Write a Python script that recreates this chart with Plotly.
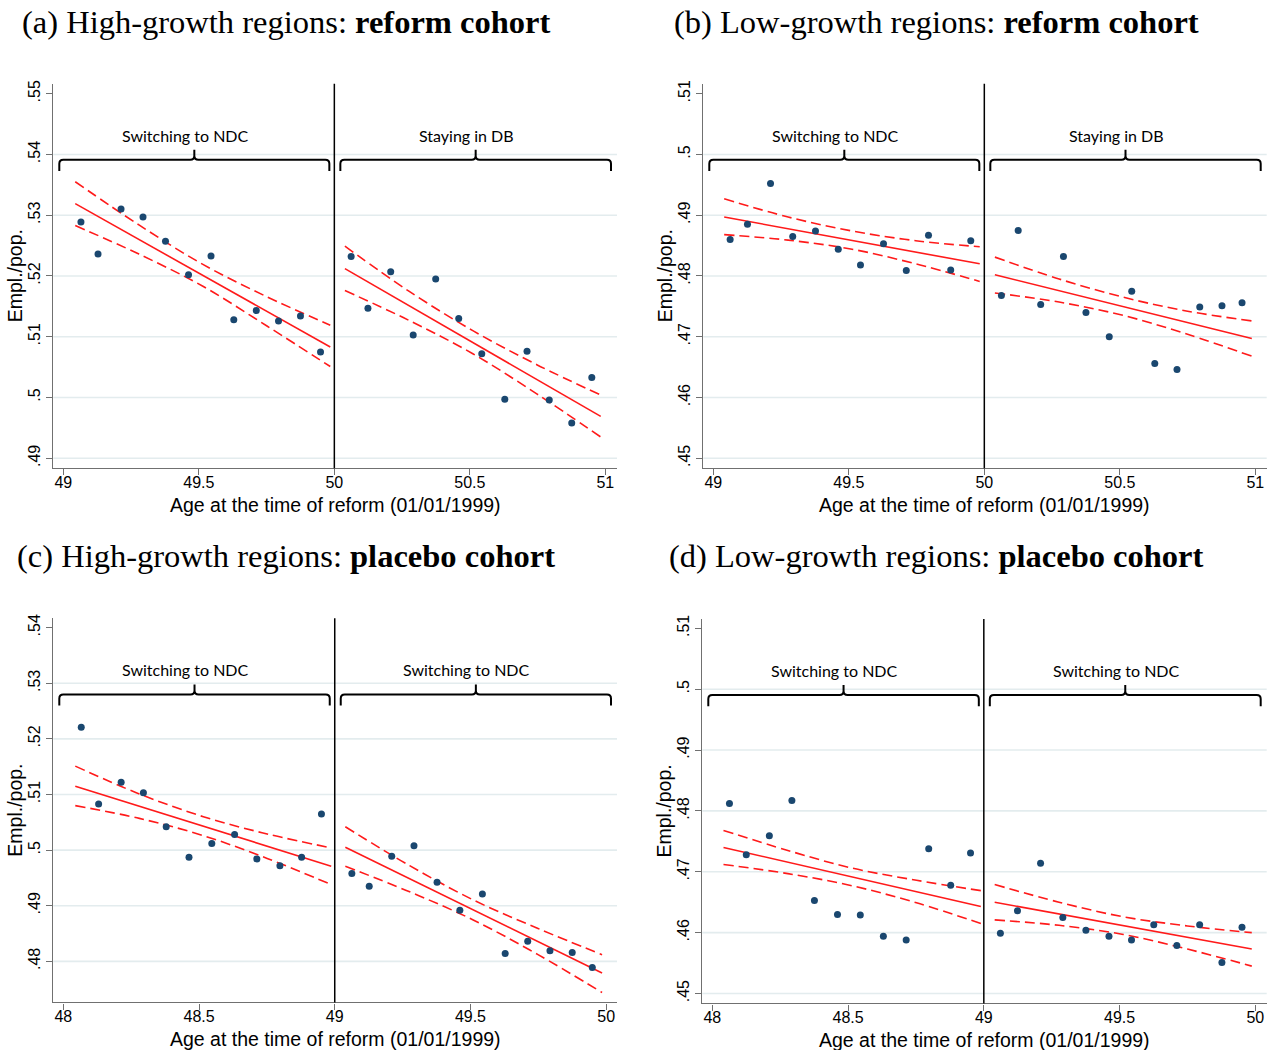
import plotly.graph_objects as go

W, H = 1267, 1050

# ---------------- Panel (a): High-growth regions, reform cohort ----------------
a_age_L = [49.065, 49.128, 49.213, 49.294, 49.377, 49.462, 49.545, 49.629, 49.712, 49.794, 49.875, 49.949]
a_rate_L = [.5289, .5236, .5310, .5297, .5257, .5202, .5233, .5128, .5143, .5126, .5134, .5075]
a_age_R = [50.062, 50.124, 50.208, 50.291, 50.374, 50.459, 50.544, 50.629, 50.711, 50.793, 50.876, 50.950]
a_rate_R = [.5232, .5147, .5207, .5103, .5195, .5130, .5072, .4997, .5076, .4996, .4958, .5033]
a_fit_x_L = [49.044, 49.985]
a_fit_L = [.5319, .5083]
a_band_x_L = [49.044, 49.279, 49.515, 49.750, 49.985]
a_upper_L = [.5355, .5284, .5219, .5166, .5119]
a_lower_L = [.5283, .5236, .5183, .5118, .5051]
a_fit_x_R = [50.039, 50.983]
a_fit_R = [.5212, .4969]
a_band_x_R = [50.039, 50.275, 50.511, 50.747, 50.983]
a_upper_R = [.5249, .5175, .5110, .5054, .5004]
a_lower_R = [.5176, .5127, .5072, .5006, .4935]

# ---------------- Panel (b): Low-growth regions, reform cohort ----------------
b_age_L = [49.062, 49.126, 49.211, 49.293, 49.377, 49.461, 49.543, 49.628, 49.712, 49.794, 49.876, 49.950]
b_rate_L = [.4860, .4885, .4952, .4865, .4874, .4844, .4818, .4853, .4809, .4867, .4810, .4858]
b_age_R = [50.063, 50.125, 50.208, 50.292, 50.375, 50.461, 50.544, 50.629, 50.711, 50.795, 50.877, 50.951]
b_rate_R = [.4768, .4875, .4753, .4832, .4740, .4700, .4775, .4656, .4646, .4749, .4751, .4756]
b_fit_x_L = [49.040, 49.983]
b_fit_L = [.4897, .4820]
b_band_x_L = [49.040, 49.276, 49.512, 49.747, 49.983]
b_upper_L = [.4927, .4897, .4874, .4858, .4848]
b_lower_L = [.4868, .4859, .4844, .4820, .4791]
b_fit_x_R = [50.039, 50.987]
b_fit_R = [.4802, .4697]
b_band_x_R = [50.039, 50.276, 50.513, 50.750, 50.987]
b_upper_R = [.4831, .4795, .4765, .4742, .4726]
b_lower_R = [.4772, .4757, .4735, .4704, .4668]

# ---------------- Panel (c): High-growth regions, placebo cohort ----------------
c_age_L = [48.066, 48.130, 48.213, 48.295, 48.379, 48.463, 48.547, 48.631, 48.713, 48.798, 48.878, 48.951]
c_rate_L = [.5221, .5083, .5122, .5103, .5042, .4987, .5012, .5028, .4984, .4972, .4987, .5065]
c_age_R = [49.063, 49.127, 49.210, 49.292, 49.377, 49.461, 49.544, 49.628, 49.711, 49.793, 49.875, 49.949]
c_rate_R = [.4958, .4935, .4989, .5008, .4942, .4892, .4921, .4814, .4836, .4819, .4816, .4789]
c_fit_x_L = [48.044, 48.987]
c_fit_L = [.5115, .4971]
c_band_x_L = [48.044, 48.280, 48.516, 48.751, 48.987]
c_upper_L = [.5151, .5101, .5060, .5029, .5004]
c_lower_L = [.5080, .5057, .5026, .4985, .4938]
c_fit_x_R = [49.039, 49.985]
c_fit_R = [.5005, .4779]
c_band_x_R = [49.039, 49.276, 49.512, 49.749, 49.985]
c_upper_R = [.5042, .4972, .4910, .4859, .4812]
c_lower_R = [.4971, .4925, .4874, .4812, .4744]

# ---------------- Panel (d): Low-growth regions, placebo cohort ----------------
d_age_L = [48.063, 48.125, 48.210, 48.293, 48.376, 48.461, 48.545, 48.630, 48.714, 48.797, 48.878, 48.951]
d_rate_L = [.4812, .4728, .4759, .4817, .4653, .4630, .4629, .4594, .4588, .4738, .4678, .4731]
d_age_R = [49.061, 49.124, 49.209, 49.291, 49.376, 49.461, 49.544, 49.626, 49.711, 49.795, 49.877, 49.951]
d_rate_R = [.4599, .4636, .4714, .4625, .4604, .4594, .4588, .4613, .4579, .4613, .4551, .4609]
d_fit_x_L = [48.041, 48.989]
d_fit_L = [.4740, .4643]
d_band_x_L = [48.041, 48.278, 48.515, 48.752, 48.989]
d_upper_L = [.4768, .4735, .4706, .4686, .4669]
d_lower_L = [.4712, .4697, .4677, .4649, .4615]
d_fit_x_R = [49.040, 49.987]
d_fit_R = [.4650, .4573]
d_band_x_R = [49.040, 49.277, 49.514, 49.750, 49.987]
d_upper_R = [.4679, .4650, .4626, .4611, .4600]
d_lower_R = [.4621, .4612, .4597, .4573, .4545]

# ---------------- Ticks, labels, cut-offs ----------------
a_yticks = [.49, .50, .51, .52, .53, .54, .55]
a_yticklabels = [".49", ".5", ".51", ".52", ".53", ".54", ".55"]
b_yticks = [.45, .46, .47, .48, .49, .50, .51]
b_yticklabels = [".45", ".46", ".47", ".48", ".49", ".5", ".51"]
c_yticks = [.48, .49, .50, .51, .52, .53, .54]
c_yticklabels = [".48", ".49", ".5", ".51", ".52", ".53", ".54"]
d_yticks = [.45, .46, .47, .48, .49, .50, .51]
d_yticklabels = [".45", ".46", ".47", ".48", ".49", ".5", ".51"]
reform_xticks = [49, 49.5, 50, 50.5, 51]
reform_xticklabels = ["49", "49.5", "50", "50.5", "51"]
placebo_xticks = [48, 48.5, 49, 49.5, 50]
placebo_xticklabels = ["48", "48.5", "49", "49.5", "50"]
cutoffs = [50, 50, 49, 49]
segment_labels = [["Switching to NDC", "Staying in DB"],
                  ["Switching to NDC", "Staying in DB"],
                  ["Switching to NDC", "Switching to NDC"],
                  ["Switching to NDC", "Switching to NDC"]]
titles = ["(a) High-growth regions: <b>reform cohort</b>",
          "(b) Low-growth regions: <b>reform cohort</b>",
          "(c) High-growth regions: <b>placebo cohort</b>",
          "(d) Low-growth regions: <b>placebo cohort</b>"]
y_title = "Empl./pop."
x_title = "Age at the time of reform (01/01/1999)"

# ---------------- Layout geometry (pixels) ----------------
def px(x):
    return x / W

def py(y):
    return 1 - y / H

panel_geo = [  # left, right, top, bottom of plot area (px), x range, y range
    dict(l=53.3, r=617.0, t=80.0, b=466.0, xr=[48.963, 51.043], yr=[.48836, .55164]),
    dict(l=703.3, r=1266.7, t=80.0, b=466.0, xr=[48.963, 51.042], yr=[.44836, .51164]),
    dict(l=53.3, r=617.0, t=616.7, b=1002.3, xr=[47.963, 50.040], yr=[.47260, .54167]),
    dict(l=702.3, r=1266.7, t=617.3, b=1003.3, xr=[47.963, 50.042], yr=[.44836, .51154]),
]

panels = [
    dict(age_L=a_age_L, rate_L=a_rate_L, age_R=a_age_R, rate_R=a_rate_R,
         fx_L=a_fit_x_L, f_L=a_fit_L, bx_L=a_band_x_L, up_L=a_upper_L, lo_L=a_lower_L,
         fx_R=a_fit_x_R, f_R=a_fit_R, bx_R=a_band_x_R, up_R=a_upper_R, lo_R=a_lower_R,
         yt=a_yticks, ytl=a_yticklabels, xt=reform_xticks, xtl=reform_xticklabels),
    dict(age_L=b_age_L, rate_L=b_rate_L, age_R=b_age_R, rate_R=b_rate_R,
         fx_L=b_fit_x_L, f_L=b_fit_L, bx_L=b_band_x_L, up_L=b_upper_L, lo_L=b_lower_L,
         fx_R=b_fit_x_R, f_R=b_fit_R, bx_R=b_band_x_R, up_R=b_upper_R, lo_R=b_lower_R,
         yt=b_yticks, ytl=b_yticklabels, xt=reform_xticks, xtl=reform_xticklabels),
    dict(age_L=c_age_L, rate_L=c_rate_L, age_R=c_age_R, rate_R=c_rate_R,
         fx_L=c_fit_x_L, f_L=c_fit_L, bx_L=c_band_x_L, up_L=c_upper_L, lo_L=c_lower_L,
         fx_R=c_fit_x_R, f_R=c_fit_R, bx_R=c_band_x_R, up_R=c_upper_R, lo_R=c_lower_R,
         yt=c_yticks, ytl=c_yticklabels, xt=placebo_xticks, xtl=placebo_xticklabels),
    dict(age_L=d_age_L, rate_L=d_rate_L, age_R=d_age_R, rate_R=d_rate_R,
         fx_L=d_fit_x_L, f_L=d_fit_L, bx_L=d_band_x_L, up_L=d_upper_L, lo_L=d_lower_L,
         fx_R=d_fit_x_R, f_R=d_fit_R, bx_R=d_band_x_R, up_R=d_upper_R, lo_R=d_lower_R,
         yt=d_yticks, ytl=d_yticklabels, xt=placebo_xticks, xtl=placebo_xticklabels),
]

RED = "#ff1a1a"
NAVY = "#1a476f"
AXIS = "#707070"
GRID = "#e3ecee"
SANS = "Liberation Sans, Arial, sans-serif"
SERIF = "Liberation Serif, Times New Roman, serif"
LABEL_FONT = "Lato, Open Sans, sans-serif"

fig = go.Figure()
shapes = []
annotations = []
layout_axes = {}

for i, (p, g) in enumerate(zip(panels, panel_geo)):
    n = "" if i == 0 else str(i + 1)
    xa, ya = "x" + n, "y" + n
    # traces
    for side in ("L", "R"):
        fig.add_trace(go.Scatter(x=p["bx_" + side], y=p["up_" + side], mode="lines",
                                 line=dict(color=RED, width=1.6, dash="10px,5px", shape="spline", smoothing=1.0),
                                 xaxis=xa, yaxis=ya, showlegend=False, hoverinfo="skip"))
        fig.add_trace(go.Scatter(x=p["bx_" + side], y=p["lo_" + side], mode="lines",
                                 line=dict(color=RED, width=1.6, dash="10px,5px", shape="spline", smoothing=1.0),
                                 xaxis=xa, yaxis=ya, showlegend=False, hoverinfo="skip"))
        fig.add_trace(go.Scatter(x=p["fx_" + side], y=p["f_" + side], mode="lines",
                                 line=dict(color=RED, width=1.6),
                                 xaxis=xa, yaxis=ya, showlegend=False, hoverinfo="skip"))
        fig.add_trace(go.Scatter(x=p["age_" + side], y=p["rate_" + side], mode="markers",
                                 marker=dict(color=NAVY, size=7),
                                 xaxis=xa, yaxis=ya, showlegend=False))

    xkey = "xaxis" + n
    ykey = "yaxis" + n
    layout_axes[xkey] = dict(
        domain=[px(g["l"]), px(g["r"])], anchor=ya, range=g["xr"],
        tickmode="array", tickvals=p["xt"], ticktext=p["xtl"],
        showgrid=False, zeroline=False, showline=True, linecolor=AXIS, linewidth=1.4,
        ticks="outside", ticklen=6, tickwidth=1.3, tickcolor=AXIS, ticklabelstandoff=-7,
        tickfont=dict(family=SANS, size=16, color="black"), fixedrange=True)
    layout_axes[ykey] = dict(
        domain=[py(g["b"]), py(g["t"])], anchor=xa, range=g["yr"],
        tickmode="array", tickvals=p["yt"], ticktext=p["ytl"], tickangle=-90,
        showgrid=False, zeroline=False, showline=True, linecolor=AXIS, linewidth=1.4,
        ticks="outside", ticklen=6, tickwidth=1.3, tickcolor=AXIS,
        tickfont=dict(family=SANS, size=16, color="black"), fixedrange=True)

    # gridlines (all ticks except the top one)
    for v in p["yt"][:-1]:
        shapes.append(dict(type="line", xref=xa + " domain", yref=ya, x0=0, x1=1, y0=v, y1=v,
                           line=dict(color=GRID, width=1.6), layer="below"))
    # cut-off line
    cut = cutoffs[i]
    shapes.append(dict(type="line", xref=xa, yref=ya + " domain", x0=cut, x1=cut, y0=0, y1=1,
                       line=dict(color="black", width=1.5), layer="above"))

    # brackets
    xr = g["xr"]
    unit = (g["r"] - g["l"]) / (xr[1] - xr[0])  # px per x unit
    hgt = g["b"] - g["t"]
    rx, ry = 4 / unit, 4 / hgt
    yh, ye, yn = 0.802, 0.773, 0.828
    spans = [(xr[0] + 6 / unit, cut - 5 / unit), (cut + 6 / unit, xr[1] - 6 / unit)]
    for k, (x0, x1) in enumerate(spans):
        xm = (x0 + x1) / 2
        path = (f"M {x0},{ye} L {x0},{yh - ry} Q {x0},{yh} {x0 + rx},{yh} "
                f"L {xm - rx},{yh} Q {xm},{yh} {xm},{yh + ry} L {xm},{yn} "
                f"M {xm},{yh + ry} Q {xm},{yh} {xm + rx},{yh} "
                f"L {x1 - rx},{yh} Q {x1},{yh} {x1},{yh - ry} L {x1},{ye}")
        shapes.append(dict(type="path", xref=xa, yref=ya + " domain", path=path,
                           line=dict(color="black", width=2)))
        annotations.append(dict(x=xm - 9 / unit, y=0.866, xref=xa, yref=ya + " domain",
                                text=segment_labels[i][k], showarrow=False,
                                xanchor="center", yanchor="middle",
                                font=dict(family=LABEL_FONT, size=16, color="black")))

    # axis titles
    annotations.append(dict(x=px((g["l"] + g["r"]) / 2), y=py(g["b"] + 37), xref="paper", yref="paper",
                            text=x_title, showarrow=False, xanchor="center", yanchor="middle",
                            font=dict(family=SANS, size=19.5, color="black")))
    annotations.append(dict(x=px(g["l"] - 38), y=py((g["t"] + g["b"]) / 2), xref="paper", yref="paper",
                            text=y_title, showarrow=False, textangle=-90, xanchor="center", yanchor="middle",
                            font=dict(family=SANS, size=19.5, color="black")))

# panel titles
title_pos = [(286, 18), (936, 18), (286, 554), (936, 554)]
for t, (tx, ty) in zip(titles, title_pos):
    annotations.append(dict(x=px(tx), y=py(ty), xref="paper", yref="paper", text=t, showarrow=False,
                            xanchor="center", yanchor="middle",
                            font=dict(family=SERIF, size=32.5, color="black")))

fig.update_layout(width=W, height=H, margin=dict(l=0, r=0, t=0, b=0),
                  paper_bgcolor="white", plot_bgcolor="white",
                  shapes=shapes, annotations=annotations, showlegend=False, **layout_axes)

fig.write_html("out.html", config={"displayModeBar": False},
               post_script="document.body.style.margin='0';document.body.style.overflow='hidden';")
